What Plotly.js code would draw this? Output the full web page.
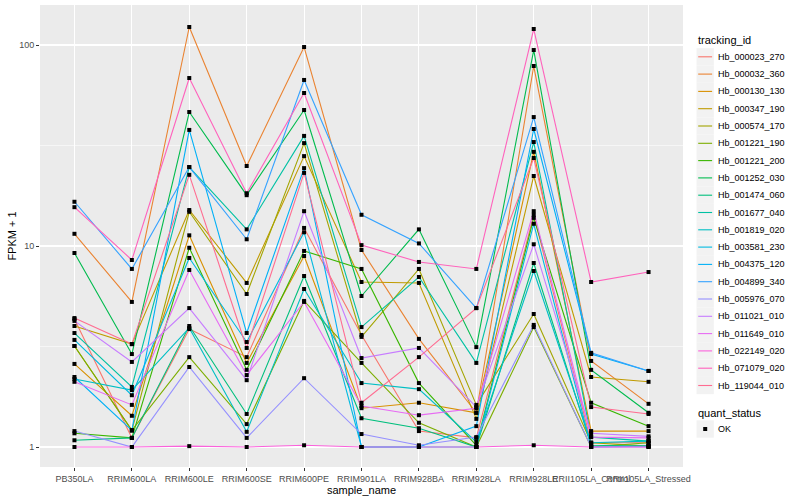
<!DOCTYPE html>
<html><head><meta charset="utf-8">
<script src="https://cdn.plot.ly/plotly-3.0.1.min.js"></script>
<style>html,body{margin:0;padding:0;background:#fff}#chart{width:800px;height:500px}</style>
</head><body><div id="chart"></div>
<script>
// ---- data ----
const samples = ["PB350LA","RRIM600LA","RRIM600LE","RRIM600SE","RRIM600PE","RRIM901LA","RRIM928BA","RRIM928LA","RRIM928LE","RRII105LA_Control","RRII105LA_Stressed"];
const trackingIds = ["Hb_000023_270","Hb_000032_360","Hb_000130_130","Hb_000347_190","Hb_000574_170","Hb_001221_190","Hb_001221_200","Hb_001252_030","Hb_001474_060","Hb_001677_040","Hb_001819_020","Hb_003581_230","Hb_004375_120","Hb_004899_340","Hb_005976_070","Hb_011021_010","Hb_011649_010","Hb_022149_020","Hb_071079_020","Hb_119044_010"];
const lineColors = ["#F8766D","#EA8331","#D89000","#C09B00","#A3A500","#7CAE00","#39B600","#00BB4E","#00BF7D","#00C1A3","#00BFC4","#00BAE0","#00B0F6","#35A2FF","#9590FF","#C77CFF","#E76BF3","#FA62DB","#FF62BC","#FF6C91"];

// FPKM + 1 per sample (order of samples)
const Hb_000023_270 = [4.33, 1.11, 3.86, 2.80, 12.3, 3.61, 1.20, 1.11, 14.3, 1.05, 1.05];
const Hb_000032_360 = [11.5, 5.27, 122.9, 25.0, 97.7, 9.55, 3.45, 1.48, 78.6, 2.68, 1.64];
const Hb_000130_130 = [2.59, 1.43, 11.3, 2.62, 8.92, 1.56, 1.66, 1.48, 29.4, 1.20, 1.20];
const Hb_000347_190 = [4.00, 3.25, 15.1, 6.55, 28.0, 6.62, 6.55, 1.38, 22.3, 2.23, 2.11];
const Hb_000574_170 = [3.18, 1.21, 14.8, 5.77, 32.5, 3.53, 7.69, 1.62, 4.59, 1.05, 1.01];
const Hb_001221_190 = [3.18, 1.21, 2.80, 1.30, 5.33, 2.62, 1.32, 1.00, 3.95, 1.00, 1.05];
const Hb_001221_200 = [1.17, 1.11, 9.80, 2.42, 9.45, 7.69, 2.08, 1.02, 13.8, 1.66, 1.27];
const Hb_001252_030 = [9.23, 2.90, 46.4, 17.9, 47.5, 5.64, 12.1, 3.14, 94.4, 2.42, 1.48];
const Hb_001474_060 = [1.08, 1.11, 4.00, 1.46, 7.09, 1.39, 1.24, 1.00, 8.23, 1.02, 1.01];
const Hb_001677_040 = [3.69, 1.99, 24.7, 12.1, 35.3, 3.95, 7.01, 2.62, 32.9, 1.12, 1.07];
const Hb_001819_020 = [2.18, 1.92, 3.91, 1.19, 6.11, 2.08, 1.94, 1.06, 7.51, 1.05, 1.07];
const Hb_003581_230 = [3.41, 1.81, 8.72, 3.33, 11.7, 1.00, 1.00, 1.00, 12.9, 1.00, 1.01];
const Hb_004375_120 = [2.23, 1.21, 37.8, 3.69, 24.4, 1.00, 1.00, 1.27, 38.2, 2.90, 2.39];
const Hb_004899_340 = [16.6, 7.69, 24.7, 10.8, 67.0, 14.3, 10.3, 4.91, 43.8, 2.94, 2.39];
const Hb_005976_070 = [1.20, 1.00, 2.50, 1.11, 2.20, 1.16, 1.02, 1.12, 4.05, 1.00, 1.00];
const Hb_011021_010 = [4.24, 2.65, 4.91, 2.15, 14.9, 2.77, 3.11, 1.58, 10.2, 1.17, 1.13];
const Hb_011649_010 = [2.11, 1.62, 7.60, 2.28, 5.27, 1.60, 1.44, 1.56, 14.9, 1.12, 1.11];
const Hb_022149_020 = [1.00, 1.00, 1.01, 1.00, 1.02, 1.00, 1.00, 1.00, 1.02, 1.00, 1.00];
const Hb_071079_020 = [15.6, 8.52, 68.5, 18.3, 57.7, 10.1, 8.33, 7.69, 120.1, 6.62, 7.42];
const Hb_119044_010 = [4.38, 3.25, 22.6, 3.11, 23.1, 1.66, 2.80, 4.91, 27.4, 1.58, 1.46];

const seriesValues = [Hb_000023_270,Hb_000032_360,Hb_000130_130,Hb_000347_190,Hb_000574_170,Hb_001221_190,Hb_001221_200,Hb_001252_030,Hb_001474_060,Hb_001677_040,Hb_001819_020,Hb_003581_230,Hb_004375_120,Hb_004899_340,Hb_005976_070,Hb_011021_010,Hb_011649_010,Hb_022149_020,Hb_071079_020,Hb_119044_010];
const yTicks = [1, 10, 100];
const yTickText = ["1", "10", "100"];
const yMinor = [0.3162, 3.162, 31.62];
const quantStatus = ["OK"];

// ---- geometry (pixels) ----
const W = 800, H = 500;
const M = {l: 40, r: 117, t: 5, b: 33};
const PW = W - M.l - M.r, PH = H - M.t - M.b;
const px2x = p => (p - M.l) / PW;
const px2y = p => (H - M.b - p) / PH;
const FONT = "Liberation Sans, Arial, Helvetica, sans-serif";

const traces = [];
seriesValues.forEach((vals, i) => {
  traces.push({
    type: "scatter", mode: "lines", x: samples, y: vals, name: trackingIds[i],
    line: {color: lineColors[i], width: 1.1}, showlegend: false, hoverinfo: "skip"
  });
});
seriesValues.forEach((vals, i) => {
  traces.push({
    type: "scatter", mode: "markers", x: samples, y: vals, name: trackingIds[i],
    marker: {color: "#000000", symbol: "square", size: 4, line: {width: 0}},
    showlegend: false
  });
});

// ---- manual ggplot-like legend ----
const shapes = [], annotations = [];
const keyL = 696.5, keyR = 713.8, step = 17.3;
annotations.push({xref: "paper", yref: "paper", x: px2x(695.5), y: px2y(40.5), xanchor: "left", yanchor: "middle",
  text: "tracking_id", showarrow: false, font: {family: FONT, size: 11, color: "#000"}});
trackingIds.forEach((id, i) => {
  const cy = 56.8 + step * i;
  shapes.push({type: "rect", xref: "paper", yref: "paper", x0: px2x(keyL), x1: px2x(keyR),
    y0: px2y(cy - step / 2), y1: px2y(cy + step / 2), fillcolor: "#F2F2F2", line: {width: 0}, layer: "above"});
  shapes.push({type: "line", xref: "paper", yref: "paper", x0: px2x(keyL + 1.7), x1: px2x(keyR - 1.7),
    y0: px2y(cy), y1: px2y(cy), line: {color: lineColors[i], width: 1.1}, layer: "above"});
  annotations.push({xref: "paper", yref: "paper", x: px2x(716), y: px2y(cy), xanchor: "left", yanchor: "middle",
    text: id, showarrow: false, font: {family: FONT, size: 9, color: "#000"}});
});
annotations.push({xref: "paper", yref: "paper", x: px2x(695.5), y: px2y(412.5), xanchor: "left", yanchor: "middle",
  text: "quant_status", showarrow: false, font: {family: FONT, size: 11, color: "#000"}});
quantStatus.forEach((q, i) => {
  const cy = 429 + step * i;
  shapes.push({type: "rect", xref: "paper", yref: "paper", x0: px2x(keyL), x1: px2x(keyR),
    y0: px2y(cy - step / 2), y1: px2y(cy + step / 2), fillcolor: "#F2F2F2", line: {width: 0}, layer: "above"});
  shapes.push({type: "rect", xref: "paper", yref: "paper", x0: px2x(703.2), x1: px2x(707.2),
    y0: px2y(cy - 2), y1: px2y(cy + 2), fillcolor: "#000", line: {width: 0}, layer: "above"});
  annotations.push({xref: "paper", yref: "paper", x: px2x(716), y: px2y(cy), xanchor: "left", yanchor: "middle",
    text: q, showarrow: false, font: {family: FONT, size: 9, color: "#000"}});
});

const layout = {
  width: W, height: H, margin: M,
  paper_bgcolor: "#FFFFFF", plot_bgcolor: "#EBEBEB",
  font: {family: FONT, size: 9, color: "#4D4D4D"},
  showlegend: false,
  xaxis: {
    type: "category", categoryorder: "array", categoryarray: samples,
    range: [-0.6, 10.6], automargin: false, fixedrange: true,
    showgrid: true, gridcolor: "#FFFFFF", gridwidth: 1.07, zeroline: false, showline: false,
    ticks: "outside", ticklen: 3, tickwidth: 1, tickcolor: "#333333", tickangle: 0,
    tickfont: {family: FONT, size: 9, color: "#4D4D4D"},
    title: {text: "sample_name", font: {family: FONT, size: 11, color: "#000"}, standoff: 3}
  },
  yaxis: {
    type: "log", range: [-0.0995, 2.199], automargin: false, fixedrange: true,
    tickmode: "array", tickvals: yTicks, ticktext: yTickText,
    showgrid: true, gridcolor: "#FFFFFF", gridwidth: 1.07, zeroline: false, showline: false,
    ticks: "outside", ticklen: 3, tickwidth: 1, tickcolor: "#333333",
    tickfont: {family: FONT, size: 9, color: "#4D4D4D"},
    minor: {tickmode: "array", tickvals: yMinor, showgrid: true, gridcolor: "#FFFFFF", gridwidth: 0.53, ticks: ""},
    title: {text: "FPKM + 1", font: {family: FONT, size: 11, color: "#000"}, standoff: 0}
  },
  shapes: shapes,
  annotations: annotations
};

Plotly.newPlot("chart", traces, layout, {displayModeBar: false, staticPlot: true});
</script>
</body></html>
